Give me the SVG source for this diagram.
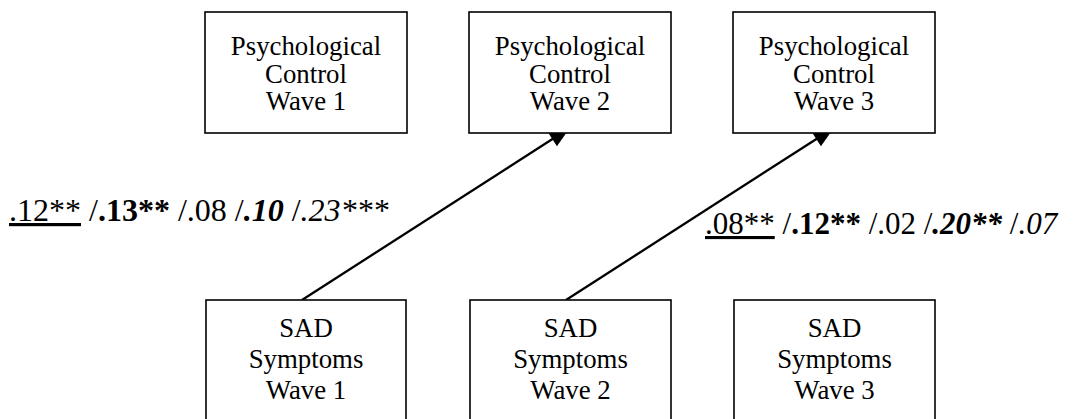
<svg xmlns="http://www.w3.org/2000/svg" width="1076" height="419" viewBox="0 0 1076 419">
<style>
.box{fill:#fff;stroke:#000;stroke-width:1.6}
.nt{font-family:"Liberation Serif","Times New Roman",serif;font-size:26.8px;text-anchor:middle;fill:#000}
.lbl{font-family:"Liberation Serif","Times New Roman",serif;fill:#000}
.b{font-weight:bold}
.i{font-style:italic}
.conn{stroke:#000;stroke-width:2.3;fill:none;marker-end:url(#ah)}
</style>
<defs>
<marker id="ah" markerUnits="userSpaceOnUse" markerWidth="22" markerHeight="18" viewBox="-22 -9 22 18" refX="0" refY="0" orient="auto">
<path d="M0,0 L-21,-8.5 L-21,8.5 Z" fill="#000"/>
</marker>
</defs>
<g id="connectors">
<line class="conn" x1="302" y1="300" x2="570" y2="127.7"/>
<line class="conn" x1="566" y1="300" x2="834" y2="127.7"/>
</g>
<g id="pc1"><rect class="box" x="205" y="12" width="202" height="121"/>
<text class="nt" x="306" y="55">Psychological</text><text class="nt" x="306" y="82.5">Control</text><text class="nt" x="306" y="110">Wave 1</text></g>
<g id="pc2"><rect class="box" x="469" y="12" width="202" height="121"/>
<text class="nt" x="570" y="55">Psychological</text><text class="nt" x="570" y="82.5">Control</text><text class="nt" x="570" y="110">Wave 2</text></g>
<g id="pc3"><rect class="box" x="733" y="12" width="202" height="121"/>
<text class="nt" x="834" y="55">Psychological</text><text class="nt" x="834" y="82.5">Control</text><text class="nt" x="834" y="110">Wave 3</text></g>
<g id="sad1"><rect class="box" x="206" y="300" width="200" height="130"/>
<text class="nt" x="306" y="337">SAD</text><text class="nt" x="306" y="368">Symptoms</text><text class="nt" x="306" y="399">Wave 1</text></g>
<g id="sad2"><rect class="box" x="470" y="300" width="201" height="130"/>
<text class="nt" x="570.5" y="337">SAD</text><text class="nt" x="570.5" y="368">Symptoms</text><text class="nt" x="570.5" y="399">Wave 2</text></g>
<g id="sad3"><rect class="box" x="734" y="300" width="201" height="130"/>
<text class="nt" x="834.5" y="337">SAD</text><text class="nt" x="834.5" y="368">Symptoms</text><text class="nt" x="834.5" y="399">Wave 3</text></g>
<g id="labels">
<text class="lbl" x="9" y="221" font-size="32px"><tspan text-decoration="underline">.12**</tspan> /<tspan class="b">.13**</tspan> /.08 /<tspan class="b i">.10</tspan> /<tspan class="i">.23***</tspan></text>
<text class="lbl" x="705" y="234" font-size="31px"><tspan text-decoration="underline">.08**</tspan> /<tspan class="b">.12**</tspan> /.02 /<tspan class="b i">.20**</tspan> /<tspan class="i">.07</tspan></text>
</g>
</svg>
